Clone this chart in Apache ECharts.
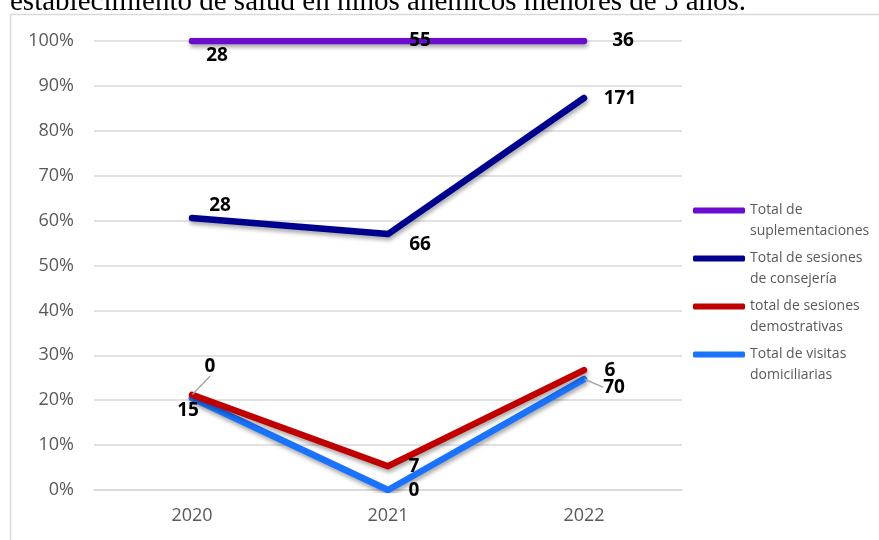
<!DOCTYPE html>
<html><head><meta charset="utf-8">
<script src="https://cdn.jsdelivr.net/npm/echarts@6/dist/echarts.min.js"></script>
<style>html,body{margin:0;padding:0;background:#fff}#c{width:879px;height:540px}</style>
</head><body><div id="c"></div>
<script>
var categories = ['2020', '2021', '2022'];
var seriesNames = ['Total de\nsuplementaciones', 'Total de sesiones\nde consejería', 'total de sesiones\ndemostrativas', 'Total de visitas\ndomiciliarias'];
var suplPct = [100, 100, 100];
var consPct = [60.6, 57.0, 87.3];
var demoPct = [21.2, 5.3, 26.7];
var visPct = [20.5, 0, 24.7];
var suplCount = [28, 55, 36];
var consCount = [28, 66, 171];
var demoCount = [0, 7, 6];
var visCount = [15, 0, 70];
var yTicks = [0, 10, 20, 30, 40, 50, 60, 70, 80, 90, 100];
var titleText = 'establecimiento de salud en niños anémicos menores de 5 años.';

var colors = ['#6A0DD0', '#00008F', '#C00000', '#1A73FF'];
var offsets = [
  [[25, 15], [32, 0], [39, 0]],
  [[28, -12], [32, 11], [36, 1]],
  [[18, -28], [26, 0], [26, 0]],
  [[-4, 13], [26, 1], [30, 8]]
];
var pctArr = [suplPct, consPct, demoPct, visPct];
var cntArr = [suplCount, consCount, demoCount, visCount];
var leaders = {'2-0': true, '3-2': true};

function mkSeries(i) {
  return {
    name: seriesNames[i], type: 'line',
    data: pctArr[i].map(function (v, j) {
      return {
        value: v,
        label: {show: true, position: 'inside', formatter: String(cntArr[i][j])},
        labelLine: {show: !!leaders[i + '-' + j], lineStyle: {color: '#A6A6A6', width: 1.5}}
      };
    }),
    symbol: 'circle', symbolSize: 1, showSymbol: true,
    itemStyle: {color: colors[i]},
    lineStyle: {width: 6.5, color: colors[i], cap: 'round', join: 'round',
      shadowColor: 'rgba(0,0,0,0.35)', shadowBlur: 4, shadowOffsetY: 3, shadowOffsetX: 1},
    label: {color: '#000', fontWeight: 'bold', fontSize: 19, fontFamily: 'Open Sans'},
    labelLayout: function (p) {
      var o = offsets[p.seriesIndex][p.dataIndex];
      return {dx: o[0], dy: o[1]};
    },
    emphasis: {disabled: true},
    z: 10 - i
  };
}

var chart = echarts.init(document.getElementById('c'), null, {renderer: 'canvas'});
chart.setOption({
  animation: false,
  backgroundColor: '#fff',
  graphic: [
    {type: 'rect', shape: {x: 10.5, y: 14.5, width: 880, height: 540}, style: {fill: 'none', stroke: '#D9D9D9', lineWidth: 1.5}, z: -1},
    {type: 'text', left: 10, top: -12, style: {text: titleText, font: '29px "Liberation Serif"', fill: '#000'}}
  ],
  grid: {left: 94, right: 197, top: 41, bottom: 50},
  legend: {
    orient: 'vertical', left: 688, top: 174, itemGap: -15,
    itemWidth: 52, itemHeight: 6, icon: 'roundRect',
    formatter: function (n) { return ' \n' + n; },
    textStyle: {color: '#595959', fontSize: 14, fontFamily: 'Open Sans', lineHeight: 21},
    data: seriesNames.map(function (n, i) { return {name: n, itemStyle: {color: colors[i]}}; })
  },
  xAxis: {
    type: 'category', data: categories, boundaryGap: true,
    axisLine: {lineStyle: {color: '#D9D9D9', width: 1.5}}, axisTick: {show: false},
    axisLabel: {color: '#595959', fontSize: 18, fontFamily: 'Open Sans', margin: 17}
  },
  yAxis: {
    type: 'value', min: 0, max: 100, interval: 10,
    axisLabel: {color: '#595959', fontSize: 18, fontFamily: 'Open Sans', margin: 20,
      formatter: function (v) { return yTicks.indexOf(v) >= 0 ? v + '%' : ''; }},
    axisLine: {show: false}, axisTick: {show: false},
    splitLine: {lineStyle: {color: '#D9D9D9', width: 1.5}}
  },
  series: [0, 1, 2, 3].map(mkSeries)
});
</script></body></html>
